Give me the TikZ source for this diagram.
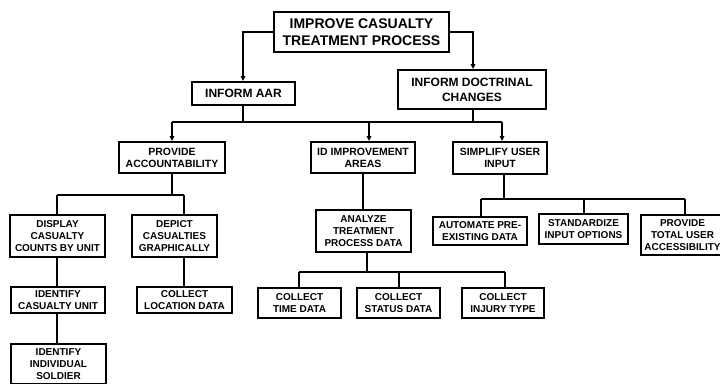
\documentclass[tikz,border=0pt]{standalone}
\usepackage{fontspec}
\setmainfont{Liberation Sans}
\usetikzlibrary{arrows.meta}
\tikzset{
  box/.style={draw=black, line width=1.8pt, fill=white, inner sep=0pt, align=center,
    font=\bfseries\fontsize{10}{11.7}\selectfont},
  midbox/.style={box, font=\bfseries\fontsize{10.5}{12.2}\selectfont},
  l1box/.style={box, font=\bfseries\fontsize{12}{14.8}\selectfont},
  bigbox/.style={box, font=\bfseries\fontsize{14}{16.7}\selectfont},
  conn/.style={draw=black, line width=1.8pt},
  arr/.style={conn, -{Triangle[length=5pt,width=4.5pt]}},
}
\begin{document}
\begin{tikzpicture}[x=1pt,y=-1pt]
\useasboundingbox (0,0) rectangle (720,383);
% nodes
\node[bigbox, minimum width=175pt, minimum height=40pt] (top) at (361.5,32) {IMPROVE CASUALTY\\TREATMENT PROCESS};
\node[l1box, minimum width=103pt, minimum height=23pt] (aar) at (243.5,93.5) {INFORM AAR};
\node[l1box, minimum width=148pt, minimum height=39pt] (doc) at (472,89.5) {INFORM DOCTRINAL\\CHANGES};
\node[midbox, minimum width=106pt, minimum height=31pt] (acc) at (172,157.5) {PROVIDE\\ACCOUNTABILITY};
\node[midbox, minimum width=104pt, minimum height=31pt] (idi) at (363,157.5) {ID IMPROVEMENT\\AREAS};
\node[midbox, minimum width=94pt, minimum height=32pt] (sim) at (500,158) {SIMPLIFY USER\\INPUT};
\node[box, minimum width=95pt, minimum height=42pt] (dis) at (57.5,236) {DISPLAY\\CASUALTY\\COUNTS BY UNIT};
\node[box, minimum width=85pt, minimum height=42pt] (dep) at (174.5,236) {DEPICT\\CASUALTIES\\GRAPHICALLY};
\node[box, minimum width=94pt, minimum height=26pt] (ida) at (58,300) {IDENTIFY\\CASUALTY UNIT};
\node[box, minimum width=95pt, minimum height=26pt] (loc) at (184.5,300) {COLLECT\\LOCATION DATA};
\node[box, minimum width=95pt, minimum height=40pt] (sol) at (58.5,364) {IDENTIFY\\INDIVIDUAL\\SOLDIER};
\node[box, minimum width=95pt, minimum height=42pt] (ana) at (363.5,231) {ANALYZE\\TREATMENT\\PROCESS DATA};
\node[box, minimum width=83pt, minimum height=30pt] (tim) at (299.5,303) {COLLECT\\TIME DATA};
\node[box, minimum width=83pt, minimum height=30pt] (sta) at (398.5,303) {COLLECT\\STATUS DATA};
\node[box, minimum width=82pt, minimum height=30pt] (inj) at (503,303) {COLLECT\\INJURY TYPE};
\node[box, minimum width=94pt, minimum height=28pt] (aut) at (480,231) {AUTOMATE PRE-\\EXISTING DATA};
\node[box, minimum width=89pt, minimum height=30pt] (std) at (583.5,229) {STANDARDIZE\\INPUT OPTIONS};
\node[box, minimum width=83pt, minimum height=40pt] (tot) at (682.5,235) {PROVIDE\\TOTAL USER\\ACCESSIBILITY};
% bus coordinates
\coordinate (b1) at (0,122);
\coordinate (b2) at (0,195);
\coordinate (b3) at (0,272);
\coordinate (b4) at (0,199);
% top level
\draw[arr] (top.west) -| ([xshift=-0.5pt]aar.north);
\draw[arr] (top.east) -| ([xshift=1pt]doc.north);
% level 1 bus
\draw[conn] ([xshift=-0.5pt]aar.south) -- ([xshift=-0.5pt]aar.south |- b1);
\draw[conn] ([xshift=1pt]doc.south) -- ([xshift=1pt]doc.south |- b1);
\draw[conn] (acc.north |- b1) -- ([xshift=2pt]sim.north |- b1);
\draw[arr] (acc.north |- b1) -- (acc.north);
\draw[arr] ([xshift=6pt]idi.north |- b1) -- ([xshift=6pt]idi.north);
\draw[arr] ([xshift=2pt]sim.north |- b1) -- ([xshift=2pt]sim.north);
% accountability
\draw[conn] (acc.south) -- (acc.south |- b2);
\draw[conn] ([xshift=-0.5pt]dis.north |- b2) -- ([xshift=9.5pt]dep.north |- b2);
\draw[conn] ([xshift=-0.5pt]dis.north |- b2) -- ([xshift=-0.5pt]dis.north);
\draw[conn] ([xshift=9.5pt]dep.north |- b2) -- ([xshift=9.5pt]dep.north);
\draw[conn] ([xshift=-0.5pt]dis.south) -- ([xshift=-0.5pt]dis.south |- ida.north);
\draw[conn] ([xshift=-1pt]ida.south) -- ([xshift=-1pt]ida.south |- sol.north);
\draw[conn] ([xshift=9.5pt]dep.south) -- ([xshift=9.5pt]dep.south |- loc.north);
% improvement areas
\draw[conn] (idi.south) -- (idi.south |- ana.north);
\draw[conn] ([xshift=3.5pt]ana.south) -- ([xshift=3.5pt]ana.south |- b3);
\draw[conn] ([xshift=-0.5pt]tim.north |- b3) -- ([xshift=2pt]inj.north |- b3);
\draw[conn] ([xshift=-0.5pt]tim.north |- b3) -- ([xshift=-0.5pt]tim.north);
\draw[conn] ([xshift=0.5pt]sta.north |- b3) -- ([xshift=0.5pt]sta.north);
\draw[conn] ([xshift=2pt]inj.north |- b3) -- ([xshift=2pt]inj.north);
% simplify
\draw[conn] ([xshift=4pt]sim.south) -- ([xshift=4pt]sim.south |- b4);
\draw[conn] ([xshift=1pt]aut.north |- b4) -- ([xshift=2.5pt]tot.north |- b4);
\draw[conn] ([xshift=1pt]aut.north |- b4) -- ([xshift=1pt]aut.north);
\draw[conn] ([xshift=0.5pt]std.north |- b4) -- ([xshift=0.5pt]std.north);
\draw[conn] ([xshift=2.5pt]tot.north |- b4) -- ([xshift=2.5pt]tot.north);
\end{tikzpicture}
\end{document}
